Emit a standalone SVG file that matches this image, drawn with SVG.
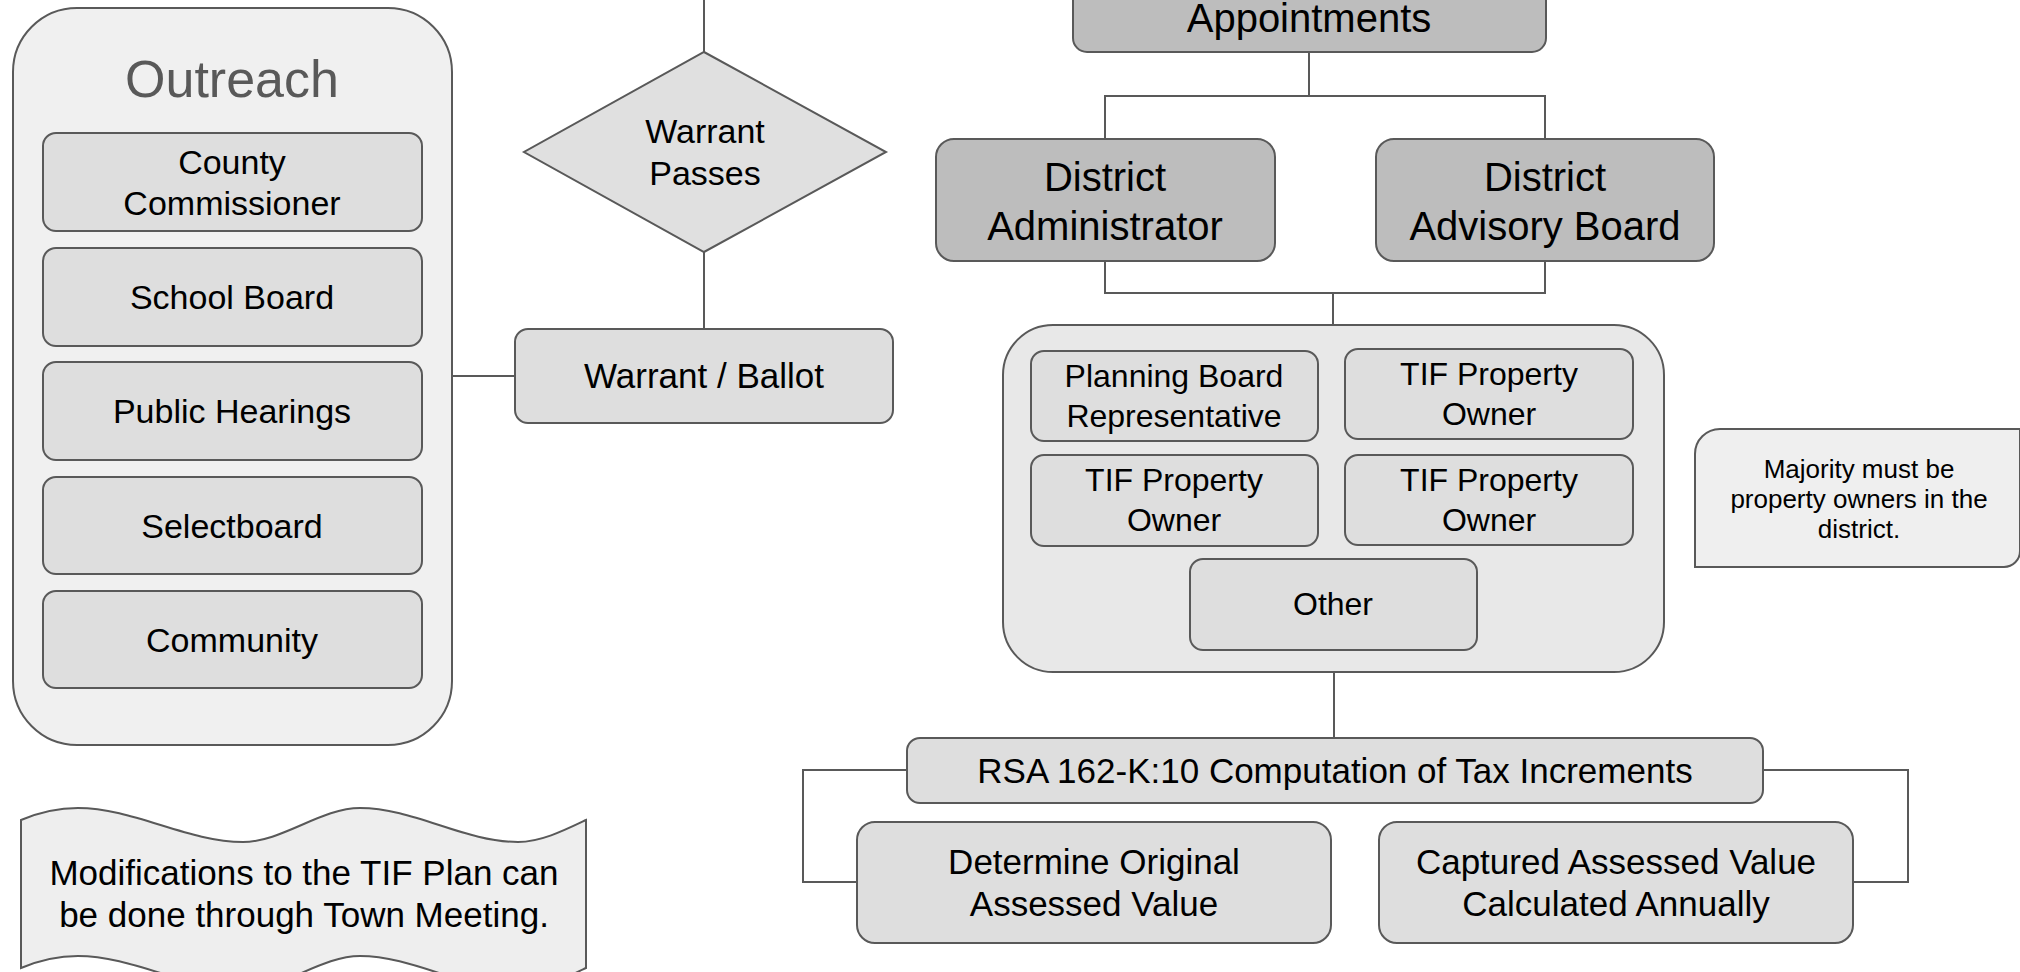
<svg xmlns="http://www.w3.org/2000/svg" width="2020" height="972" viewBox="0 0 2020 972">
  <defs>
    <style>
      .t { font-family: "Liberation Sans", Arial, sans-serif; fill: #000; text-anchor: middle; }
      .box { fill: #dedede; stroke: #595959; stroke-width: 2; }
      .dark { fill: #bdbdbd; stroke: #595959; stroke-width: 2; }
      .wire { fill: none; stroke: #595959; stroke-width: 2; }
    </style>
  </defs>
  <rect width="2020" height="972" fill="#ffffff"/>

  <g id="connectors">
    <path class="wire" d="M704,0 V52"/>
    <path class="wire" d="M704,252 V329"/>
    <path class="wire" d="M452,376 H515"/>
    <path class="wire" d="M1309,52 V96 M1105,139 V96 H1545 V139"/>
    <path class="wire" d="M1105,261 V293 H1545 V261 M1333,293 V325"/>
    <path class="wire" d="M1334,672 V738"/>
    <path class="wire" d="M907,770 H803 V882 H857"/>
    <path class="wire" d="M1763,770 H1908 V882 H1853"/>
  </g>

  <g id="outreach">
    <rect x="13" y="8" width="439" height="737" rx="64" ry="64" fill="#f0f0f0" stroke="#595959" stroke-width="2"/>
    <text class="t" x="232" y="97" font-size="52" style="fill:#595959">Outreach</text>
  </g>
  <g id="county-commissioner">
    <rect class="box" x="43" y="133" width="379" height="98" rx="13"/>
    <text class="t" x="232" y="174" font-size="34">County</text>
    <text class="t" x="232" y="215" font-size="34">Commissioner</text>
  </g>
  <g id="school-board">
    <rect class="box" x="43" y="248" width="379" height="98" rx="13"/>
    <text class="t" x="232" y="309" font-size="34">School Board</text>
  </g>
  <g id="public-hearings">
    <rect class="box" x="43" y="362" width="379" height="98" rx="13"/>
    <text class="t" x="232" y="423" font-size="34">Public Hearings</text>
  </g>
  <g id="selectboard">
    <rect class="box" x="43" y="477" width="379" height="97" rx="13"/>
    <text class="t" x="232" y="538" font-size="34">Selectboard</text>
  </g>
  <g id="community">
    <rect class="box" x="43" y="591" width="379" height="97" rx="13"/>
    <text class="t" x="232" y="652" font-size="34">Community</text>
  </g>

  <g id="warrant-passes">
    <polygon points="704,52 886,152 704,252 524,152" fill="#e0e0e0" stroke="#595959" stroke-width="2"/>
    <text class="t" x="705" y="143" font-size="34">Warrant</text>
    <text class="t" x="705" y="185" font-size="34">Passes</text>
  </g>
  <g id="warrant-ballot">
    <rect class="box" x="515" y="329" width="378" height="94" rx="13"/>
    <text class="t" x="704" y="388" font-size="35">Warrant / Ballot</text>
  </g>

  <g id="appointments">
    <rect class="dark" x="1073" y="-60" width="473" height="112" rx="14"/>
    <text class="t" x="1309" y="32" font-size="40">Appointments</text>
  </g>
  <g id="district-administrator">
    <rect class="dark" x="936" y="139" width="339" height="122" rx="18"/>
    <text class="t" x="1105" y="191" font-size="40">District</text>
    <text class="t" x="1105" y="240" font-size="40">Administrator</text>
  </g>
  <g id="district-advisory-board">
    <rect class="dark" x="1376" y="139" width="338" height="122" rx="18"/>
    <text class="t" x="1545" y="191" font-size="40">District</text>
    <text class="t" x="1545" y="240" font-size="40">Advisory Board</text>
  </g>

  <g id="board-members">
    <rect x="1003" y="325" width="661" height="347" rx="50" ry="50" fill="#e8e8e8" stroke="#595959" stroke-width="2"/>
  </g>
  <g id="planning-board-rep">
    <rect class="box" x="1031" y="351" width="287" height="90" rx="13"/>
    <text class="t" x="1174" y="387" font-size="32">Planning Board</text>
    <text class="t" x="1174" y="427" font-size="32">Representative</text>
  </g>
  <g id="tif-owner-1">
    <rect class="box" x="1345" y="349" width="288" height="90" rx="13"/>
    <text class="t" x="1489" y="385" font-size="32">TIF Property</text>
    <text class="t" x="1489" y="425" font-size="32">Owner</text>
  </g>
  <g id="tif-owner-2">
    <rect class="box" x="1031" y="455" width="287" height="91" rx="13"/>
    <text class="t" x="1174" y="491" font-size="32">TIF Property</text>
    <text class="t" x="1174" y="531" font-size="32">Owner</text>
  </g>
  <g id="tif-owner-3">
    <rect class="box" x="1345" y="455" width="288" height="90" rx="13"/>
    <text class="t" x="1489" y="491" font-size="32">TIF Property</text>
    <text class="t" x="1489" y="531" font-size="32">Owner</text>
  </g>
  <g id="other">
    <rect class="box" x="1190" y="559" width="287" height="91" rx="13"/>
    <text class="t" x="1333" y="615" font-size="32">Other</text>
  </g>

  <g id="majority-note">
    <path d="M1720,429 H2020 V551 A16,16 0 0 1 2004,567 H1695 V454 A25,25 0 0 1 1720,429 Z" fill="#efefef" stroke="#595959" stroke-width="2"/>
    <text class="t" x="1859" y="478" font-size="26">Majority must be</text>
    <text class="t" x="1859" y="508" font-size="26">property owners in the</text>
    <text class="t" x="1859" y="538" font-size="26">district.</text>
  </g>

  <g id="rsa-computation">
    <rect class="box" x="907" y="738" width="856" height="65" rx="13"/>
    <text class="t" x="1335" y="783" font-size="35">RSA 162-K:10 Computation of Tax Increments</text>
  </g>
  <g id="original-assessed-value">
    <rect class="box" x="857" y="822" width="474" height="121" rx="18"/>
    <text class="t" x="1094" y="874" font-size="35">Determine Original</text>
    <text class="t" x="1094" y="916" font-size="35">Assessed Value</text>
  </g>
  <g id="captured-assessed-value">
    <rect class="box" x="1379" y="822" width="474" height="121" rx="18"/>
    <text class="t" x="1616" y="874" font-size="35">Captured Assessed Value</text>
    <text class="t" x="1616" y="916" font-size="35">Calculated Annually</text>
  </g>

  <g id="modifications-note">
    <path d="M21,820 C40,812 58,808 78,808 C133,808 188,842 243,842 C282,842 321,808 360,808 C413,808 465,842 518,842 C541,842 565,830 586,820 L586,968 C565,978 541,990 518,990 C465,990 413,956 360,956 C321,956 282,990 243,990 C188,990 133,956 78,956 C58,956 40,960 21,968 Z" fill="#eeeeee" stroke="#595959" stroke-width="2"/>
    <text class="t" x="304" y="885" font-size="35">Modifications to the TIF Plan can</text>
    <text class="t" x="304" y="927" font-size="35">be done through Town Meeting.</text>
  </g>
</svg>
